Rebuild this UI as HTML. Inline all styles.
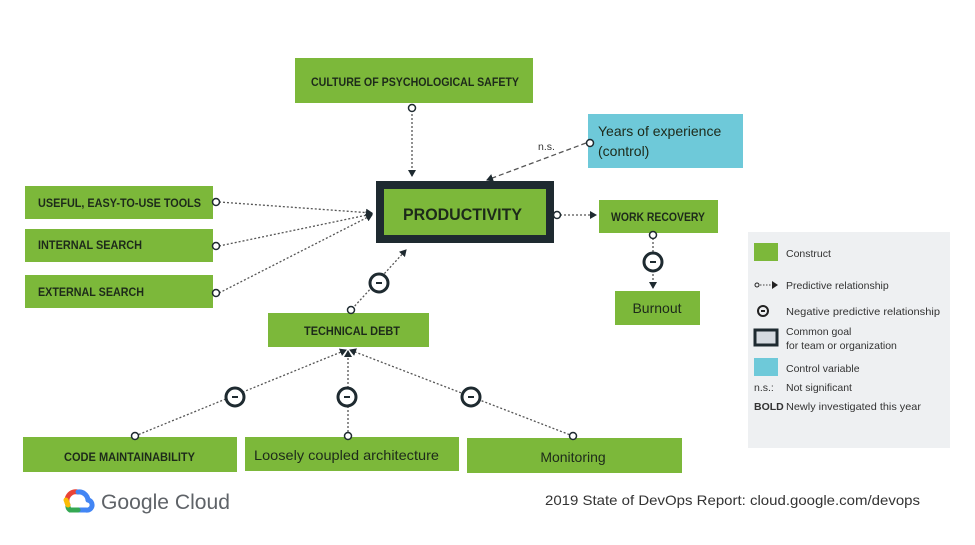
<!DOCTYPE html>
<html><head><meta charset="utf-8"><style>
body{margin:0;background:#fff;}
svg{display:block}
.b{font-family:"Liberation Sans Narrow","Liberation Sans",sans-serif;font-weight:bold;font-size:12px;fill:#1d2a1a}
.n{font-family:"Liberation Sans",sans-serif;font-size:14px;fill:#1d2a1a}
.l{font-family:"Liberation Sans",sans-serif;font-size:10.5px;fill:#333}
</style></head><body>
<svg width="975" height="545" viewBox="0 0 975 545" xmlns="http://www.w3.org/2000/svg">
<defs><marker id="a" markerWidth="8" markerHeight="8" refX="6" refY="4" orient="auto" markerUnits="userSpaceOnUse"><path d="M0,0 L7,4 L0,8z" fill="#1e2a30"/></marker></defs>
<g fill="#7cb83a">
<rect x="295" y="58" width="238" height="45"/>
<rect x="25" y="186" width="188" height="33"/>
<rect x="25" y="229" width="188" height="33"/>
<rect x="25" y="275" width="188" height="33"/>
<rect x="599" y="200" width="119" height="33"/>
<rect x="615" y="291" width="85" height="34"/>
<rect x="268" y="313" width="161" height="34"/>
<rect x="23" y="437" width="214" height="35"/>
<rect x="245" y="437" width="214" height="34"/>
<rect x="467" y="438" width="215" height="35"/>
</g>
<rect x="588" y="114" width="155" height="54" fill="#6ec9d9"/>
<rect x="376" y="181" width="178" height="62" fill="#1e2a30"/>
<rect x="384" y="189" width="162" height="46" fill="#7cb83a"/>
<text x="311" y="86" class="b" textLength="208" lengthAdjust="spacingAndGlyphs">CULTURE OF PSYCHOLOGICAL SAFETY</text>
<text x="598" y="136" class="n">Years of experience</text>
<text x="598" y="156" class="n">(control)</text>
<text x="403" y="220" class="b" style="font-size:17px" textLength="119" lengthAdjust="spacingAndGlyphs">PRODUCTIVITY</text>
<text x="38" y="207" class="b" textLength="163" lengthAdjust="spacingAndGlyphs">USEFUL, EASY-TO-USE TOOLS</text>
<text x="38" y="249" class="b" textLength="104" lengthAdjust="spacingAndGlyphs">INTERNAL SEARCH</text>
<text x="38" y="296" class="b" textLength="106" lengthAdjust="spacingAndGlyphs">EXTERNAL SEARCH</text>
<text x="611" y="221" class="b" textLength="94" lengthAdjust="spacingAndGlyphs">WORK RECOVERY</text>
<text x="657" y="313" class="n" text-anchor="middle">Burnout</text>
<text x="304" y="335" class="b" textLength="96" lengthAdjust="spacingAndGlyphs">TECHNICAL DEBT</text>
<text x="64" y="461" class="b" textLength="131" lengthAdjust="spacingAndGlyphs">CODE MAINTAINABILITY</text>
<text x="254" y="460" class="n" textLength="185" lengthAdjust="spacingAndGlyphs">Loosely coupled architecture</text>
<text x="573" y="462" class="n" text-anchor="middle">Monitoring</text>
<g stroke="#555" stroke-width="1.3" stroke-dasharray="2,2" fill="none">
<line x1="412" y1="110" x2="412" y2="176" marker-end="url(#a)"/>
<line x1="586" y1="143" x2="487" y2="180" stroke-dasharray="5,3" marker-end="url(#a)"/>
<line x1="219" y1="202" x2="372" y2="213" marker-end="url(#a)"/>
<line x1="219" y1="246" x2="372" y2="214" marker-end="url(#a)"/>
<line x1="219" y1="293" x2="372" y2="215" marker-end="url(#a)"/>
<line x1="560" y1="215" x2="596" y2="215" marker-end="url(#a)"/>
<line x1="653" y1="238" x2="653" y2="288" marker-end="url(#a)"/>
<line x1="352" y1="309" x2="406" y2="250" marker-end="url(#a)"/>
<line x1="135" y1="436" x2="346" y2="350" marker-end="url(#a)"/>
<line x1="348" y1="436" x2="348" y2="351" marker-end="url(#a)"/>
<line x1="573" y1="436" x2="350" y2="350" marker-end="url(#a)"/>
</g>
<g fill="#fff" stroke="#1e2a30" stroke-width="1.5">
<circle cx="412" cy="108" r="3.5"/><circle cx="590" cy="143" r="3.5"/>
<circle cx="216" cy="202" r="3.5"/><circle cx="216" cy="246" r="3.5"/><circle cx="216" cy="293" r="3.5"/>
<circle cx="557" cy="215" r="3.5"/><circle cx="653" cy="235" r="3.5"/>
<circle cx="351" cy="310" r="3.5"/><circle cx="135" cy="436" r="3.5"/><circle cx="348" cy="436" r="3.5"/><circle cx="573" cy="436" r="3.5"/>
</g>
<g fill="#fff" stroke="#1e2a30" stroke-width="3">
<circle cx="379" cy="283" r="9"/><circle cx="653" cy="262" r="9"/>
<circle cx="235" cy="397" r="9"/><circle cx="347" cy="397" r="9"/><circle cx="471" cy="397" r="9"/>
</g>
<g fill="#1e2a30"><rect x="376" y="282" width="6" height="2"/><rect x="650" y="261" width="6" height="2"/><rect x="232" y="396" width="6" height="2"/><rect x="344" y="396" width="6" height="2"/><rect x="468" y="396" width="6" height="2"/></g>
<text x="538" y="150" class="l">n.s.</text>
<rect x="748" y="232" width="202" height="216" fill="#eef0f2"/>
<rect x="754" y="243" width="24" height="18" fill="#7cb83a"/>
<text x="786" y="257" class="l">Construct</text>
<circle cx="757" cy="285" r="2" fill="none" stroke="#222"/><line x1="760" y1="285" x2="772" y2="285" stroke="#444" stroke-dasharray="1.5,1.5"/><path d="M772,281 L778,285 L772,289z" fill="#222"/>
<text x="786" y="289" class="l">Predictive relationship</text>
<circle cx="763" cy="311" r="5" fill="none" stroke="#222" stroke-width="2"/><rect x="761" y="310" width="4" height="2" fill="#222"/>
<text x="786" y="315" class="l" textLength="154" lengthAdjust="spacingAndGlyphs">Negative predictive relationship</text>
<rect x="755" y="330" width="22" height="15" fill="#d5dae0" stroke="#1e2a30" stroke-width="3"/>
<text x="786" y="335" class="l">Common goal</text><text x="786" y="349" class="l">for team or organization</text>
<rect x="754" y="358" width="24" height="18" fill="#6ec9d9"/>
<text x="786" y="372" class="l">Control variable</text>
<text x="754" y="391" class="l">n.s.:</text><text x="786" y="391" class="l">Not significant</text>
<text x="754" y="410" class="l" style="font-weight:bold">BOLD</text><text x="786" y="410" class="l" textLength="135" lengthAdjust="spacingAndGlyphs">Newly investigated this year</text>
<g fill="none" stroke-width="5" stroke-linecap="round">
<path d="M68,505 A9,9 0 0 1 78,492" stroke="#ea4335"/>
<path d="M78,492 A9,9 0 0 1 88,500" stroke="#4285f4"/>
<path d="M88,500 A5,5 0 0 1 86,510 L78,510" stroke="#4285f4"/>
<path d="M78,510 L70,510 A5,5 0 0 1 68,505" stroke="#34a853"/>
<path d="M68,505 L66,500" stroke="#fbbc04"/>
</g>
<text x="101" y="509" style="font-family:'Liberation Sans',sans-serif;font-size:21px;fill:#5f6368" textLength="129" lengthAdjust="spacingAndGlyphs">Google Cloud</text>
<text x="545" y="505" style="font-family:'Liberation Sans',sans-serif;font-size:14px;fill:#333" textLength="375" lengthAdjust="spacingAndGlyphs">2019 State of DevOps Report: cloud.google.com/devops</text>
</svg>
</body></html>
